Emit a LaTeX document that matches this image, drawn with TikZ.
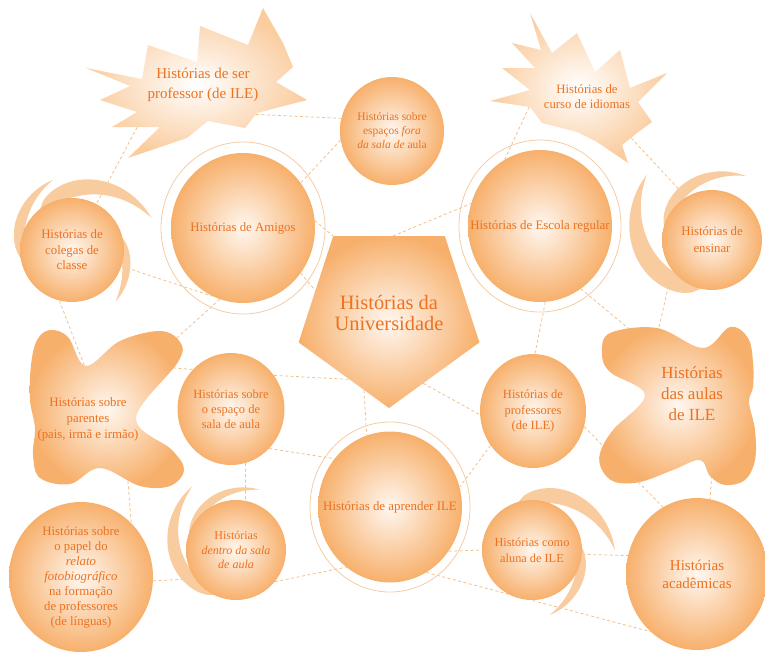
\documentclass[tikz,border=0pt]{standalone}
\usepackage{fontspec}
\setmainfont{Liberation Serif}
\usetikzlibrary{shapes.geometric,backgrounds}

\definecolor{storytext}{RGB}{236,114,32}
\definecolor{ballrim}{RGB}{247,176,108}
\definecolor{ballcore}{RGB}{255,247,240}
\definecolor{palerim}{RGB}{250,204,158}
\definecolor{bladefill}{RGB}{249,204,160}
\definecolor{dashline}{RGB}{242,192,142}
\definecolor{ringline}{RGB}{244,204,166}

\begin{document}
\begin{tikzpicture}[x=1pt,y=-1pt]
\tikzstyle{ball}=[ellipse, inner xsep=-30pt, inner ysep=-30pt, align=center, text=storytext, shading=radial, inner color=ballcore, outer color=ballrim]
\tikzstyle{halo}=[ellipse, draw=ringline, line width=0.8pt, inner sep=0pt]
\tikzstyle{words}=[align=center, text=storytext, inner sep=0pt]
\tikzstyle{spiky}=[shading=radial, inner color=white, outer color=palerim]
\tikzstyle{blot}=[shading=radial, inner color=ballcore, outer color=ballrim]
\tikzstyle{blade}=[fill=bladefill]
\tikzstyle{link}=[draw=dashline, line width=0.8pt, dash pattern=on 3pt off 2.5pt]

\useasboundingbox (0,0) rectangle (765,651);

% stars
\shade[spiky] (86,68) -- (142,79) -- (148,45) -- (197,62) -- (200,26) -- (248,45) -- (263,8)
  -- (283,43) -- (293,67) -- (276,82) -- (307,100) -- (257,113) -- (245,128) -- (208,121)
  -- (187,138) -- (128,158) -- (160,127) -- (112,127) -- (137,112) -- (100,100) -- (130,86) -- cycle;
\node[words, font=\fontsize{15}{20}\selectfont] (serprof) at (203,85) {Histórias de ser\\professor (de ILE)};

\shade[spiky] (530,13) -- (552,53) -- (577,33) -- (595,72) -- (620,50) -- (630,88) -- (667,73)
  -- (638,102) -- (652,122) -- (637,133) -- (622,145) -- (628,163) -- (597,142) -- (577,132)
  -- (542,123) -- (530,107) -- (490,101) -- (530,90) -- (502,68) -- (535,68) -- (512,43) -- (541,50) -- cycle;
\node[words, font=\fontsize{12.7}{15}\selectfont] (curso) at (587,97) {Histórias de\\curso de idiomas};

% plain balls
\node[ball, minimum width=104pt, minimum height=108pt, font=\fontsize{11.5}{14}\selectfont] (fora) at (392,131)
  {Histórias sobre\\espaços \textit{fora}\\\textit{da sala de} aula};
\node[ball, minimum width=107pt, minimum height=112pt, font=\fontsize{12.5}{15}\selectfont] (sala) at (231,409)
  {Histórias sobre\\o espaço de\\sala de aula};
\node[ball, minimum width=106pt, minimum height=114pt, font=\fontsize{12.5}{15.5}\selectfont] (profs) at (533,411)
  {Histórias de\\professores\\(de ILE)};
\node[ball, minimum width=144pt, minimum height=150pt, font=\fontsize{12.8}{15}\selectfont] (relato) at (81,577)
  {Histórias sobre\\o papel do\\\textit{relato}\\\textit{fotobiográfico}\\na formação\\de professores\\(de línguas)};
\node[ball, minimum width=142pt, minimum height=152pt, font=\fontsize{15}{18}\selectfont] (academicas) at (697,574)
  {Histórias\\acadêmicas};

% balls with halo
\node[halo, minimum width=164pt, minimum height=172pt] (amigos halo) at (243,228) {};
\node[ball, minimum width=144pt, minimum height=150pt, font=\fontsize{12.8}{15}\selectfont] (amigos) at (243,228)
  {Histórias de Amigos};
\node[halo, minimum width=162pt, minimum height=172pt] (escola halo) at (540,226) {};
\node[ball, minimum width=144pt, minimum height=152pt, font=\fontsize{12.9}{15}\selectfont] (escola) at (540,226)
  {Histórias de Escola regular};
\node[halo, minimum width=160pt, minimum height=170pt] (aprender halo) at (390,507) {};
\node[ball, minimum width=144pt, minimum height=151pt, font=\fontsize{12.9}{15}\selectfont] (aprender) at (390,507)
  {Histórias de aprender ILE};

% pentagon
\node[ball, regular polygon, regular polygon sides=5, shape border rotate=180, inner sep=0pt, minimum size=168pt,
  font=\fontsize{20.4}{21}\selectfont] (univ) at (389,313) {Histórias da\\Universidade};

% swirls
\begin{scope}[shift={(72,250)}, scale=52]
  \foreach \st/\sw/\sd in {165/90/1.4, 228/110/1.65, 340/70/1.3}
    \fill[blade] plot[smooth, variable=\u, domain=0.02:1, samples=14] ({\st+\u*\sw}:{0.9+(\sd-0.9)*\u^0.6})
      -- plot[smooth, variable=\u, domain=1:0.02, samples=14] ({\st+\u*\sw}:{0.9+(\sd-0.9)*\u^2}) -- cycle;
\end{scope}
\node[ball, minimum size=104pt, font=\fontsize{12.8}{15.5}\selectfont] (colegas) at (72,250)
  {Histórias de\\colegas de\\classe};

\begin{scope}[shift={(712,240)}, scale=50]
  \foreach \st/\sw/\sd in {100/125/1.85, 190/108/1.45}
    \fill[blade] plot[smooth, variable=\u, domain=0.02:1, samples=14] ({\st+\u*\sw}:{0.9+(\sd-0.9)*\u^0.6})
      -- plot[smooth, variable=\u, domain=1:0.02, samples=14] ({\st+\u*\sw}:{0.9+(\sd-0.9)*\u^2}) -- cycle;
\end{scope}
\node[ball, minimum size=100pt, font=\fontsize{12.8}{17}\selectfont] (ensinar) at (712,240)
  {Histórias de\\ensinar};

\begin{scope}[shift={(236,550)}, scale=50]
  \foreach \st/\sw/\sd in {110/126/1.55, 190/102/1.3}
    \fill[blade] plot[smooth, variable=\u, domain=0.02:1, samples=14] ({\st+\u*\sw}:{0.9+(\sd-0.9)*\u^0.6})
      -- plot[smooth, variable=\u, domain=1:0.02, samples=14] ({\st+\u*\sw}:{0.9+(\sd-0.9)*\u^2}) -- cycle;
\end{scope}
\node[ball, minimum size=100pt, font=\fontsize{12}{14.5}\selectfont] (dentro) at (236,550)
  {Histórias\\\textit{dentro da sala}\\\textit{de aula}};

\begin{scope}[shift={(532,550)}, scale=50]
  \foreach \st/\sw/\sd in {250/110/1.66, 350/85/1.35}
    \fill[blade] plot[smooth, variable=\u, domain=0.02:1, samples=14] ({\st+\u*\sw}:{0.9+(\sd-0.9)*\u^0.6})
      -- plot[smooth, variable=\u, domain=1:0.02, samples=14] ({\st+\u*\sw}:{0.9+(\sd-0.9)*\u^2}) -- cycle;
\end{scope}
\node[ball, minimum size=100pt, font=\fontsize{12.3}{16}\selectfont] (aluna) at (532,550)
  {Histórias como\\aluna de ILE};

% butterflies
\shade[blot] plot[smooth cycle, tension=0.6] coordinates {(50,330) (68,337) (86,366) (120,341) (160,331)
  (180,342) (178,362) (136,418) (172,450) (184,470) (170,486) (140,486) (100,468) (70,484) (40,478)
  (33,455) (35,428) (30,400) (31,365) (37,340)};
\node[words, font=\fontsize{12.8}{16}\selectfont] (parentes) at (88,419)
  {Histórias sobre\\parentes\\(pais, irmã e irmão)};

\shade[blot] plot[smooth cycle, tension=0.6] coordinates {(610,333) (657,328) (703,348) (730,327) (748,338)
  (753,362) (753,387) (749,402) (755,430) (755,460) (745,480) (725,485) (710,476) (700,460) (673,470)
  (640,482) (615,482) (602,470) (600,453) (613,430) (645,395) (610,372) (602,353)};
\node[words, font=\fontsize{17}{21}\selectfont] (aulas) at (692,394) {Histórias\\das aulas\\de ILE};

% attach points inside the irregular shapes
\coordinate (serprof-a) at (245,114);
\coordinate (serprof-b) at (150,103);
\coordinate (curso-a) at (536,92);
\coordinate (curso-b) at (620,126);
\coordinate (parentes-a) at (150,362);
\coordinate (parentes-b) at (162,367);
\coordinate (parentes-c) at (127,470);
\coordinate (parentes-d) at (90,380);
\coordinate (aulas-a) at (645,342);
\coordinate (aulas-b) at (655,345);
\coordinate (aulas-c) at (712,470);

\begin{scope}[on background layer]
  \draw[link] (serprof-a) -- (fora.166);
  \draw[link] (serprof-b) -- (colegas);
  \draw[link] (fora.190) -- (amigos.38);
  \draw[link] (amigos.6) -- (univ.126);
  \draw[link] (amigos.-38) -- (univ.163);
  \draw[link] (colegas) -- (amigos.246);
  \draw[link] (amigos.252) -- (parentes-a);
  \draw[link] (colegas.256) -- (parentes-d);
  \draw[link] (parentes-b) -- (sala.134);
  \draw[link] (parentes-c) -- (relato.47);
  \draw[link] (sala.-75) -- (dentro.79);
  \draw[link] (sala.-46) -- (aprender.139);
  \draw[link] (relato.-3) -- (dentro.215);
  \draw[link] (dentro.-39) -- (aprender.234);
  \draw[link] (sala.38) -- (univ.239);
  \draw[link] (univ.252) -- (aprender.108);
  \draw[link] (univ.-64) -- (profs.184);
  \draw[link] (univ.87) -- (escola.162);
  \draw[link] (escola.118) -- (curso-a);
  \draw[link] (curso-b) -- (ensinar.121);
  \draw[link] (escola.-86) -- (profs.88);
  \draw[link] (escola.-57) -- (aulas-a);
  \draw[link] (ensinar.217) -- (aulas-b);
  \draw[link] (profs.-17) -- (academicas.117);
  \draw[link] (aulas-c) -- (academicas.80);
  \draw[link] (profs.219) -- (aprender.16);
  \draw[link] (aprender.-37) -- (aluna.180);
  \draw[link] (aluna.-5) -- (academicas.165);
  \draw[link] (aprender.-61) -- (academicas.231);
\end{scope}

\end{tikzpicture}
\end{document}
